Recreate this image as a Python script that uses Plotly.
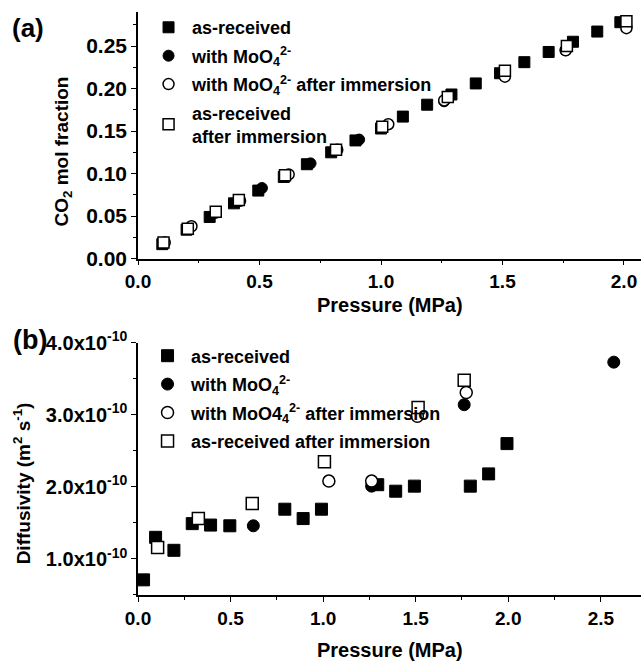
import plotly.graph_objects as go

# ---------------- Panel (a) data ----------------
a_asrec_P = [0.10, 0.20, 0.295, 0.395, 0.495, 0.60, 0.695, 0.795, 0.895, 1.00, 1.09, 1.19, 1.29, 1.39, 1.49, 1.59, 1.69, 1.79, 1.89, 1.985]
a_asrec_f = [0.017, 0.034, 0.049, 0.065, 0.080, 0.096, 0.111, 0.125, 0.139, 0.153, 0.167, 0.181, 0.193, 0.206, 0.218, 0.231, 0.243, 0.255, 0.267, 0.278]
a_moo4_P = [0.51, 0.71, 0.91, 1.26, 1.76, 2.01]
a_moo4_f = [0.083, 0.112, 0.140, 0.185, 0.245, 0.272]
a_moo4imm_P = [0.11, 0.22, 0.32, 0.42, 0.62, 0.82, 1.03, 1.26, 1.51, 1.76, 2.01]
a_moo4imm_f = [0.019, 0.038, 0.054, 0.068, 0.099, 0.128, 0.158, 0.186, 0.214, 0.245, 0.271]
a_asrecimm_P = [0.105, 0.205, 0.32, 0.415, 0.605, 0.815, 1.005, 1.275, 1.51, 1.765, 2.01]
a_asrecimm_f = [0.019, 0.035, 0.055, 0.069, 0.098, 0.128, 0.155, 0.190, 0.221, 0.250, 0.279]

# ---------------- Panel (b) data ----------------
b_asrec_P = [0.03, 0.095, 0.194, 0.293, 0.392, 0.496, 0.793, 0.892, 0.991, 1.295, 1.392, 1.493, 1.795, 1.894, 1.993]
b_asrec_D = [0.71, 1.30, 1.12, 1.49, 1.47, 1.46, 1.69, 1.56, 1.69, 2.03, 1.94, 2.01, 2.01, 2.18, 2.60]
b_moo4_P = [0.623, 1.262, 1.762, 2.57]
b_moo4_D = [1.46, 2.01, 3.14, 3.73]
b_moo4imm_P = [1.031, 1.262, 1.509, 1.773]
b_moo4imm_D = [2.08, 2.08, 2.98, 3.31]
b_asrecimm_P = [0.106, 0.326, 0.617, 1.007, 1.513, 1.762]
b_asrecimm_D = [1.16, 1.56, 1.77, 2.35, 3.10, 3.48]
SCALE_B = 1e-10

a_yticks = [0.00, 0.05, 0.10, 0.15, 0.20, 0.25]
b_yticks = [1.0, 2.0, 3.0, 4.0]
x_ticks_a = [0.0, 0.5, 1.0, 1.5, 2.0]
x_ticks_b = [0.0, 0.5, 1.0, 1.5, 2.0, 2.5]

names_a = ["as-received", "with MoO<sub>4</sub><sup>2-</sup>",
           "with MoO<sub>4</sub><sup>2-</sup> after immersion",
           "as-received<br>after immersion"]
names_b = ["as-received", "with MoO<sub>4</sub><sup>2-</sup>",
           "with MoO4<sub>4</sub><sup>2-</sup> after immersion",
           "as-received after immersion"]

FONT = "Liberation Sans"
BLK = "black"

styles = [
    dict(symbol="square", color=BLK, line=dict(color=BLK, width=1)),
    dict(symbol="circle", color=BLK, line=dict(color=BLK, width=1)),
    dict(symbol="circle", color="white", line=dict(color=BLK, width=1.5)),
    dict(symbol="square", color="white", line=dict(color=BLK, width=1.5)),
]

fig = go.Figure()

a_sets = [(a_asrec_P, a_asrec_f), (a_moo4_P, a_moo4_f), (a_moo4imm_P, a_moo4imm_f), (a_asrecimm_P, a_asrecimm_f)]
for i, ((xs, ys), nm, st) in enumerate(zip(a_sets, names_a, styles)):
    fig.add_trace(go.Scatter(x=xs, y=ys, mode="markers", name=nm, xaxis="x", yaxis="y",
                             legend="legend", legendgroup=f"a{i}",
                             marker=dict(size=11, **st)))

b_sets = [(b_asrec_P, b_asrec_D), (b_moo4_P, b_moo4_D), (b_moo4imm_P, b_moo4imm_D), (b_asrecimm_P, b_asrecimm_D)]
for i, ((xs, ys), nm, st) in enumerate(zip(b_sets, names_b, styles)):
    fig.add_trace(go.Scatter(x=xs, y=[v * SCALE_B for v in ys], mode="markers", name=nm,
                             xaxis="x2", yaxis="y2", legend="legend2", legendgroup=f"b{i}",
                             marker=dict(size=12, **st)))

xtickfont = dict(family=FONT, size=19, color=BLK, weight="bold")
ytickfont = dict(family=FONT, size=21, color=BLK, weight="bold")
axis_common = dict(showline=True, linecolor=BLK, linewidth=1.5, ticks="outside", ticklen=5,
                   tickwidth=1.2, tickcolor=BLK, showgrid=False, zeroline=False,
                   mirror=False, automargin=False)
minor_x = dict(dtick=0.25, ticks="outside", ticklen=3, tickcolor=BLK, showgrid=False)

fig.update_layout(
    width=641, height=663,
    margin=dict(l=138, r=0, t=12, b=68),
    paper_bgcolor="white", plot_bgcolor="white",
    font=dict(family=FONT, color=BLK),
    xaxis=dict(domain=[0, 1], anchor="y", range=[0, 2.07], tickvals=x_ticks_a,
               ticktext=[f"{v:.1f}" for v in x_ticks_a], tickfont=xtickfont,
               minor=minor_x, **axis_common),
    yaxis=dict(domain=[0.577, 1.0], anchor="x", range=[0, 0.29], tickvals=a_yticks,
               ticktext=[f"{v:.2f}" for v in a_yticks], tickfont=ytickfont,
               minor=dict(dtick=0.025, ticks="outside", ticklen=3, tickcolor=BLK, showgrid=False),
               **axis_common),
    xaxis2=dict(domain=[0, 1], anchor="y2", range=[0, 2.717], tickvals=x_ticks_b,
                ticktext=[f"{v:.1f}" for v in x_ticks_b], tickfont=xtickfont,
                minor=minor_x, **axis_common),
    yaxis2=dict(domain=[0, 0.4328], anchor="x2", range=[0.5e-10, 4.0e-10],
                tickvals=[v * SCALE_B for v in b_yticks],
                ticktext=[f"{v:.1f}x10<sup>-10</sup>" for v in b_yticks],
                tickfont=dict(family=FONT, size=20, color=BLK, weight="bold"),
                minor=dict(dtick=0.5e-10, ticks="outside", ticklen=3, tickcolor=BLK, showgrid=False),
                **axis_common),
    legend=dict(x=0.014, y=1.005, xanchor="left", yanchor="top", bgcolor="rgba(0,0,0,0)",
                itemwidth=37,
                font=dict(family=FONT, size=18, color=BLK, weight="bold"), tracegroupgap=2),
    legend2=dict(x=0.012, y=0.4417, xanchor="left", yanchor="top", bgcolor="rgba(0,0,0,0)",
                 itemwidth=37,
                 font=dict(family=FONT, size=18, color=BLK, weight="bold"), tracegroupgap=2),
    showlegend=True,
)

ytitle_font = dict(family=FONT, size=19, color=BLK, weight="bold")
xtitle_font = dict(family=FONT, size=20, color=BLK, weight="bold")
fig.add_annotation(text="CO<sub>2</sub> mol fraction", xref="paper", yref="paper",
                   x=-0.15, y=0.76, textangle=-90, showarrow=False, font=ytitle_font,
                   xanchor="center", yanchor="middle")
fig.add_annotation(text="Diffusivity (m<sup>2</sup> s<sup>-1</sup>)", xref="paper", yref="paper",
                   x=-0.23, y=0.192, textangle=-90, showarrow=False, font=ytitle_font,
                   xanchor="center", yanchor="middle")
fig.add_annotation(text="Pressure (MPa)", xref="paper", yref="paper", x=0.5, y=0.497,
                   showarrow=False, font=xtitle_font, xanchor="center", yanchor="middle")
fig.add_annotation(text="Pressure (MPa)", xref="paper", yref="paper", x=0.5, y=-0.094,
                   showarrow=False, font=xtitle_font, xanchor="center", yanchor="middle")
fig.add_annotation(text="(a)", xref="paper", yref="paper", x=-0.2545, y=0.9734,
                   showarrow=False, font=dict(family=FONT, size=26, color=BLK, weight="bold"),
                   xanchor="left", yanchor="middle")
fig.add_annotation(text="(b)", xref="paper", yref="paper", x=-0.2525, y=0.4374,
                   showarrow=False, font=dict(family=FONT, size=27, color=BLK, weight="bold"),
                   xanchor="left", yanchor="middle")

fig.write_html("out.html", config={"displayModeBar": False},
               post_script="document.body.style.margin='0px';")
